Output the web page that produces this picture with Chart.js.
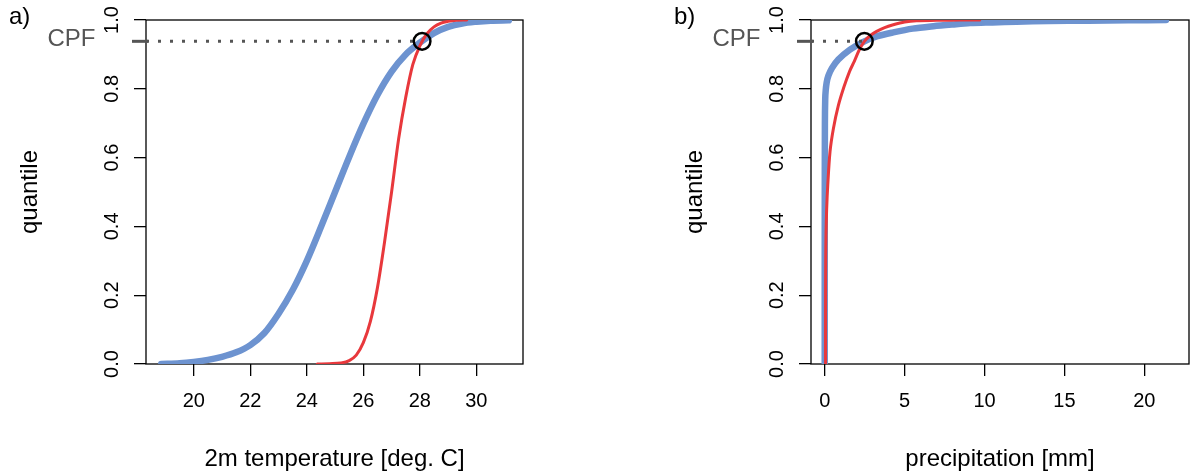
<!DOCTYPE html>
<html>
<head>
<meta charset="utf-8">
<script src="https://cdn.jsdelivr.net/npm/chart.js@4"></script>
<style>
  html, body { margin: 0; padding: 0; background: #fff; width: 1200px; height: 475px; overflow: hidden; }
  #panelA { position: absolute; left: 0; top: 0; width: 600px; height: 475px; }
  #panelB { position: absolute; left: 665px; top: 0; width: 535px; height: 475px; }
</style>
</head>
<body>
<canvas id="panelA" width="600" height="475"></canvas>
<canvas id="panelB" width="535" height="475"></canvas>
<script>
// ---------------- data ----------------
const tempTicks = [20, 22, 24, 26, 28, 30];
const precipTicks = [0, 5, 10, 15, 20];
const quantileTicks = [0, 0.2, 0.4, 0.6, 0.8, 1.0];

// panel a) 2m temperature, thick blue curve
const tempBlueX = [18.85, 19.5, 20.0, 20.5, 21.0, 21.5, 22.0, 22.5, 23.0, 23.5, 24.0, 24.5, 25.0, 25.5, 26.0, 26.5, 27.0, 27.5, 28.0, 28.5, 29.0, 29.5, 30.0, 30.5, 31.15];
const tempBlueQ = [0.000, 0.002, 0.006, 0.012, 0.021, 0.034, 0.055, 0.090, 0.146, 0.215, 0.300, 0.398, 0.500, 0.602, 0.698, 0.782, 0.850, 0.900, 0.934, 0.962, 0.980, 0.990, 0.995, 0.998, 0.999];
// panel a) thin red curve
const tempRedX = [24.37, 24.8, 25.2, 25.5, 25.75, 26.0, 26.25, 26.5, 26.75, 27.0, 27.25, 27.5, 27.75, 28.0, 28.25, 28.5, 28.75, 29.0, 29.3, 29.66];
const tempRedQ = [0.000, 0.001, 0.003, 0.010, 0.026, 0.062, 0.124, 0.222, 0.354, 0.500, 0.655, 0.775, 0.870, 0.925, 0.960, 0.980, 0.991, 0.996, 0.999, 1.000];

// panel b) precipitation, thick blue curve
const precipBlueX = [0.00, 0.00, 0.01, 0.03, 0.06, 0.12, 0.23, 0.45, 0.85, 1.58, 2.48, 3.30, 4.29, 5.50, 6.80, 8.00, 9.10, 10.5, 12.0, 14.0, 16.5, 19.0, 21.36];
const precipBlueQ = [0.000, 0.400, 0.700, 0.770, 0.795, 0.818, 0.838, 0.860, 0.885, 0.914, 0.938, 0.953, 0.964, 0.975, 0.982, 0.987, 0.991, 0.993, 0.995, 0.997, 0.998, 0.999, 1.000];
// panel b) thin red curve
const precipRedX = [0.05, 0.05, 0.06, 0.08, 0.12, 0.19, 0.33, 0.54, 0.85, 1.20, 1.55, 1.85, 2.15, 2.48, 2.85, 3.25, 3.75, 4.29, 5.00, 5.75, 7.00, 8.50, 9.70];
const precipRedQ = [0.000, 0.150, 0.300, 0.380, 0.450, 0.521, 0.617, 0.684, 0.751, 0.805, 0.850, 0.880, 0.912, 0.938, 0.955, 0.967, 0.978, 0.986, 0.994, 0.998, 0.999, 1.000, 1.000];

// crossing point (CPF) [x, quantile]
const cpfTemp = [28.08, 0.938];
const cpfPrecip = [2.48, 0.938];

// axis ranges
const tempRange = [18.31, 31.65];
const precipRange = [-0.86, 22.8];
const quantileRange = [0, 1];

// ---------------- styling ----------------
const FONT = "'Liberation Sans', Arial, Helvetica, sans-serif";
const BLUE = '#6d93d0';
const RED = '#e8383c';
const GRAY = '#555555';

const framePlugin = {
  id: 'frame',
  beforeDatasetsDraw(chart) {
    const { ctx, chartArea: a } = chart;
    ctx.save();
    ctx.strokeStyle = '#000';
    ctx.lineWidth = 1.3;
    ctx.strokeRect(a.left, a.top, a.right - a.left, a.bottom - a.top);
    ctx.restore();
  }
};

function annotPlugin(letter, cpfQ) {
  return {
    id: 'annot',
    afterDraw(chart) {
      const { ctx } = chart;
      const y = chart.scales.y.getPixelForValue(cpfQ);
      const left = chart.chartArea.left;
      ctx.save();
      ctx.strokeStyle = GRAY;
      ctx.lineWidth = 3;
      ctx.lineCap = 'butt';
      ctx.beginPath();
      ctx.moveTo(left - 14, y);
      ctx.lineTo(left + 2, y);
      ctx.stroke();
      ctx.fillStyle = GRAY;
      ctx.font = '24px ' + FONT;
      ctx.textAlign = 'right';
      ctx.textBaseline = 'alphabetic';
      ctx.fillText('CPF', left - 50.5, y + 4.5);
      ctx.fillStyle = '#000';
      ctx.textAlign = 'left';
      ctx.fillText(letter, 9, 24);
      ctx.restore();
    }
  };
}

function zip(xs, qs) { return xs.map((x, i) => ({ x: x, y: qs[i] })); }

function makePanel(id, cfg) {
  const canvas = document.getElementById(id);
  const W = canvas.width;
  const tickGrid = { display: true, drawOnChartArea: false, drawTicks: true, tickLength: 12, color: '#000', lineWidth: 1.3 };
  new Chart(canvas, {
    type: 'scatter',
    data: {
      datasets: [
        { data: [{ x: cfg.cpf[0], y: cfg.cpf[1] }], showLine: false, pointRadius: 8.3, pointHoverRadius: 8.3,
          pointBorderWidth: 2.5, pointBorderColor: '#000', pointBackgroundColor: 'rgba(0,0,0,0)', order: 0, clip: false },
        { data: [{ x: cfg.range[0], y: cfg.cpf[1] }, { x: cfg.cpf[0], y: cfg.cpf[1] }], showLine: true,
          borderColor: GRAY, borderWidth: 3, borderDash: [3, 9], borderCapStyle: 'butt', pointRadius: 0, order: 1 },
        Object.assign({ data: zip(cfg.redX, cfg.redQ), showLine: true, borderColor: RED, borderWidth: 3,
          borderCapStyle: 'round', borderJoinStyle: 'round', pointRadius: 0, order: 2 }, cfg.curve),
        Object.assign({ data: zip(cfg.blueX, cfg.blueQ), showLine: true, borderColor: BLUE, borderWidth: 6.5,
          borderCapStyle: 'round', borderJoinStyle: 'round', pointRadius: 0, order: 3 }, cfg.curve)
      ]
    },
    options: {
      responsive: false,
      animation: false,
      events: [],
      layout: { autoPadding: false, padding: { left: 0, top: 17, right: W - cfg.boxRight, bottom: 0 } },
      plugins: { legend: { display: false }, tooltip: { enabled: false } },
      scales: {
        x: {
          type: 'linear', min: cfg.range[0], max: cfg.range[1],
          afterBuildTicks: s => { s.ticks = cfg.xTicks.map(v => ({ value: v })); },
          afterFit: s => { s.height = 111; },
          grid: tickGrid,
          border: { display: false },
          ticks: { color: '#000', font: { family: FONT, size: 20 }, padding: 13, minRotation: 0, maxRotation: 0, autoSkip: false },
          title: { display: true, text: cfg.xTitle, color: '#000', font: { family: FONT, size: 24 }, padding: { top: 0, bottom: 1 } }
        },
        y: {
          type: 'linear', min: quantileRange[0], max: quantileRange[1],
          afterBuildTicks: s => { s.ticks = quantileTicks.map(v => ({ value: v })); },
          afterFit: s => { s.width = 146; },
          grid: tickGrid,
          border: { display: false },
          ticks: { color: '#000', font: { family: FONT, size: 20 }, padding: 8, minRotation: 90, maxRotation: 90,
                   crossAlign: 'center', autoSkip: false, callback: v => Number(v).toFixed(1) },
          title: { display: true, text: 'quantile', color: '#000', font: { family: FONT, size: 24 }, padding: { top: 15.6, bottom: 0 } }
        }
      }
    },
    plugins: [framePlugin, annotPlugin(cfg.letter, cfg.cpf[1])]
  });
}

makePanel('panelA', {
  letter: 'a)', xTitle: '2m temperature [deg. C]', range: tempRange, xTicks: tempTicks, boxRight: 523,
  blueX: tempBlueX, blueQ: tempBlueQ, redX: tempRedX, redQ: tempRedQ, cpf: cpfTemp,
  curve: { cubicInterpolationMode: 'monotone' }
});
makePanel('panelB', {
  letter: 'b)', xTitle: 'precipitation [mm]', range: precipRange, xTicks: precipTicks, boxRight: 524,
  blueX: precipBlueX, blueQ: precipBlueQ, redX: precipRedX, redQ: precipRedQ, cpf: cpfPrecip,
  curve: { tension: 0.3 }
});
</script>
</body>
</html>
